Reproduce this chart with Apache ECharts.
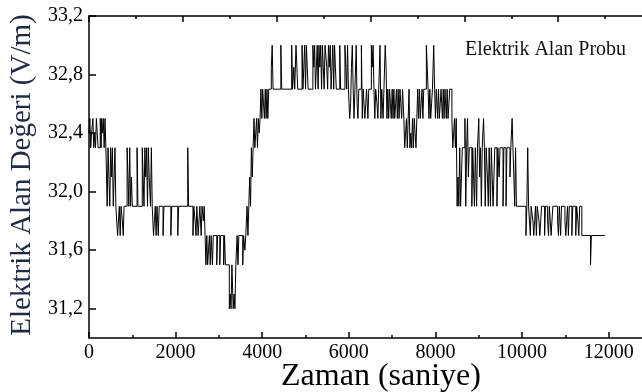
<!DOCTYPE html>
<html><head><meta charset="utf-8">
<script src="https://cdn.jsdelivr.net/npm/echarts@6/dist/echarts.min.js"></script>
<style>html,body{margin:0;padding:0;background:#fff;overflow:hidden;width:642px;height:392px}#c{width:660px;height:392px}</style>
</head><body><div id="c"></div>
<script>
// Tick labels
const xTickLabels = ['0','2000','4000','6000','8000','10000','12000'];
const yMajorTicks = [31.2,31.6,32.0,32.4,32.8,33.2];
const yMinorTicks = [31.4,31.8,32.2,32.6,33.0];
const seriesName = 'Elektrik Alan Probu';
const xTitle = 'Zaman (saniye)';
const yTitle = 'Elektrik Alan Değeri (V/m)';

// [time (s), field (V/m)], piecewise
const phaseStart = [[0,32.4],[20,32.5],[40,32.3],[60,32.4],[90,32.5],[110,32.3],[130,32.4],[150,32.3],[170,32.5],[190,32.4],[210,32.3],[260,32.5],[280,32.3],[290,32.5],[310,32.4],[330,32.5],[350,32.3],[370,32.5],[390,32.3],
 [420,31.9],[440,32.3],[460,32.1],[480,31.9],[500,32.3],[520,32.1],[540,32.3],[560,31.9],[580,32.1],[600,32.3],[620,31.9]];
const phaseLow1 = [[660,31.7],[680,31.8],[700,31.9],[720,31.7],[740,31.9],[770,31.8],[790,31.7],[810,31.9],
 [880,32.3],[900,32.1],[920,31.9],[940,32.3],[960,31.9],[980,32.1],[1000,31.9],
 [1110,32.3],[1130,31.9],
 [1230,32.3],[1250,32.1],[1270,31.9],[1290,32.3],[1310,32.1],[1330,32.3],[1350,31.9],[1370,32.3],[1390,32.1],[1420,31.9],[1440,32.3],[1460,31.9],
 [1490,31.7],[1510,31.8],[1530,31.9],[1550,31.7],[1570,31.9],[1600,31.7],[1620,31.9],
 [1710,31.7],[1730,31.9],[1890,31.7],[1910,31.9],[2050,31.7],[2070,31.9],[2280,32.3],[2300,31.9],
 [2400,31.7],[2420,31.9],[2450,31.8],[2470,31.7],[2490,31.9],[2520,31.7],[2540,31.8],[2560,31.9],[2590,31.7],[2610,31.9],[2640,31.8],[2660,31.9]];
const phaseDip = [[2680,31.7],[2700,31.5],[2720,31.7],[2740,31.5],[2760,31.6],[2780,31.7],[2800,31.5],[2820,31.7],[2850,31.5],[2870,31.7],
 [2950,31.5],[2970,31.7],[3020,31.5],[3040,31.7],[3110,31.5],[3130,31.7],[3150,31.5],
 [3180,31.5],[3240,31.2],[3260,31.3],[3280,31.2],[3300,31.5],[3330,31.2],[3350,31.3],[3370,31.2],[3390,31.5],
 [3420,31.7],[3440,31.5],[3460,31.7],[3550,31.5],[3570,31.7],[3600,31.6],[3620,31.7],[3650,31.9],[3670,31.7],[3690,31.9]];
const phaseRise = [[3710,32.1],[3730,31.9],[3750,32.3],[3770,32.1],[3790,32.3],[3810,32.5],[3830,32.3],[3850,32.4],[3870,32.5],[3890,32.3],[3910,32.5],[3930,32.4],[3950,32.5],
 [3970,32.7],[3990,32.5],[4010,32.7],[4030,32.6],[4050,32.5],[4070,32.7],[4090,32.5],[4110,32.7],[4130,32.5],[4150,32.7]];
const phaseHigh = [[4210,32.85],[4230,33.0],[4250,32.7],[4430,33.0],[4450,32.7],[4680,33.0],[4700,32.7],[4730,32.85],[4750,32.7],[4780,33.0],[4800,32.85],[4820,32.7],
 [4920,33.0],[4940,32.7],[4960,32.85],[4980,33.0],[5000,32.7],[5020,33.0],[5040,32.85],[5060,32.7],
 [5170,33.0],[5190,32.85],[5210,33.0],[5230,32.7],[5250,32.85],[5270,33.0],[5290,32.7],[5310,33.0],[5330,32.85],[5350,33.0],[5370,32.7],[5390,33.0],[5410,32.85],[5430,32.7],[5450,33.0],[5470,33.0],[5490,32.85],[5510,32.7],[5530,33.0],[5550,32.85],[5570,33.0],[5590,32.7],[5610,32.85],[5630,33.0],[5650,32.7],[5670,33.0],[5690,32.85],[5710,32.7],
 [5790,33.0],[5810,32.7],[5910,33.0],[5930,32.85],[5950,32.7],[5970,33.0],[5990,32.7]];
const phasePlateau = [[6020,32.5],[6040,32.6],[6060,32.85],[6080,33.0],[6100,32.7],[6120,32.5],[6140,32.7],[6170,33.0],[6190,32.6],[6210,32.5],[6230,32.7],
 [6290,33.0],[6310,32.5],[6330,32.7],[6370,32.5],[6390,32.6],[6410,32.7],[6440,32.5],[6460,32.7],
 [6520,33.0],[6540,32.85],[6560,33.0],[6580,32.7],[6600,32.5],[6620,32.7],[6650,32.6],[6670,32.5],[6690,32.7],[6720,33.0],[6740,32.5],[6760,32.7],
 [6790,32.5],[6810,32.7],[6840,33.0],[6860,32.85],[6880,32.5],
 [6900,32.7],[6920,32.5],[6940,32.7],[6960,32.6],[6980,32.5],[7000,32.7],[7020,32.5],[7040,32.7],[7060,32.5],[7080,32.6],[7100,32.7],[7120,32.5],[7140,32.7],[7160,32.5],[7180,32.7],[7200,32.6],[7220,32.5],[7240,32.7],
 [7270,32.5],[7290,32.3],[7310,32.4],[7330,32.5],[7350,32.3],[7370,32.5],[7390,32.7],[7410,32.3],[7430,32.4],[7450,32.3],[7470,32.5],[7490,32.3],[7510,32.5],[7530,32.4],[7550,32.3],[7570,32.5],[7590,32.7],
 [7610,32.5],[7630,32.7],[7650,32.5],[7670,32.6],[7690,32.7],[7710,32.5],[7730,32.7],[7790,33.0],[7810,32.85],[7830,32.7],
 [7850,32.5],[7870,32.7],[7890,32.5],[7910,32.6],[7930,32.7],[7960,33.0],[7980,32.7],
 [8000,32.5],[8020,32.7],[8050,32.5],[8070,32.7],[8090,32.5],[8110,32.6],[8130,32.7],[8160,32.5],[8180,32.7],[8200,32.5],[8220,32.7],[8250,32.5],[8270,32.7],[8290,32.5],[8310,32.6],[8330,32.7]];
const phaseFall = [[8380,32.5],[8400,32.3],[8420,32.4],[8440,32.5],[8460,32.3],[8480,32.5],
 [8500,31.9],[8520,32.1],[8540,31.9],[8560,32.3],[8580,31.9],[8600,32.1],[8620,32.3],
 [8680,32.5],[8700,31.9],[8720,32.3],[8740,32.5],[8760,32.1],[8780,32.3],
 [8840,31.9],[8860,32.3],[8880,32.1],[8900,31.9],[8920,32.3],[8950,31.9],[8970,32.3],[9000,32.5],[9020,32.1],[9040,32.3],[9060,31.9],[9080,32.3],
 [9110,32.5],[9130,32.3],[9150,31.9],[9170,32.3],[9200,32.1],[9220,31.9],[9240,32.3],[9270,31.9],[9290,32.3],
 [9330,31.9],[9350,32.1],[9370,32.3],[9420,31.9],[9440,32.3],[9470,32.1],[9490,32.3],
 [9560,31.9],[9580,32.3],[9630,31.9],[9650,32.3],[9720,32.1],[9740,32.3],[9770,32.5],[9790,32.3],
 [9830,31.9],[9850,32.3],[9870,31.9]];
const phaseEnd = [[10090,31.7],[10110,31.9],[10130,32.3],[10150,31.9],[10170,31.8],[10190,31.7],[10210,31.9],
 [10250,31.8],[10270,31.7],[10290,31.8],[10310,31.9],[10330,31.7],[10350,31.9],
 [10390,31.8],[10410,31.7],[10430,31.8],[10450,31.9],[10520,31.7],[10540,31.9],
 [10590,31.8],[10610,31.7],[10630,31.9],[10670,31.7],[10690,31.8],[10710,31.9],
 [10820,31.8],[10840,31.7],[10860,31.9],[10890,31.7],[10910,31.9],
 [10990,31.8],[11010,31.7],[11030,31.8],[11050,31.9],[11070,31.7],[11090,31.9],
 [11150,31.7],[11170,31.9],[11240,31.7],[11260,31.9],[11290,31.8],[11310,31.7],[11330,31.9],
 [11380,31.7],[11580,31.5],[11600,31.7],[11910,31.7]];

const data = [].concat(phaseStart, phaseLow1, phaseDip, phaseRise, phaseHigh, phasePlateau, phaseFall, phaseEnd);

const serif = '"Liberation Serif", "Times New Roman", serif';
const axisCol = '#000';
const PLOT_W = 563;
const chart = echarts.init(document.getElementById('c'), null, {renderer:'canvas'});
chart.setOption({
  animation: false,
  backgroundColor: '#fff',
  grid: {left: 89, right: 8, top: 16, bottom: 54, containLabel: false},
  xAxis: [
    {type:'value', position:'bottom', min:0, max:13000, interval:2000,
     axisLine:{show:true, onZero:false, lineStyle:{color:axisCol, width:1.5}},
     axisTick:{show:true, inside:true, length:6, lineStyle:{color:axisCol, width:1.5}},
     minorTick:{show:true, splitNumber:2, length:3, lineStyle:{color:axisCol, width:1.5}},
     axisLabel:{color:'#000', fontFamily:serif, fontSize:20, margin:5, showMaxLabel:false,
       formatter: (v) => { const i = v/2000; return Number.isInteger(i) && xTickLabels[i] !== undefined ? xTickLabels[i] : ''; }},
     splitLine:{show:false}},
    {type:'value', position:'top', min:0, max:12000, interval:2000,
     axisLine:{show:true, onZero:false, lineStyle:{color:axisCol, width:1.5}},
     axisTick:{show:true, inside:true, length:6, lineStyle:{color:axisCol, width:1.5}},
     minorTick:{show:true, splitNumber:2, length:3, lineStyle:{color:axisCol, width:1.5}},
     axisLabel:{show:false}, splitLine:{show:false}}
  ],
  yAxis: [
    {type:'value', position:'left', min:31.0, max:33.2,
     axisLine:{show:true, onZero:false, lineStyle:{color:axisCol, width:1.5}},
     axisTick:{show:true, inside:true, length:7, customValues: yMajorTicks, lineStyle:{color:axisCol, width:1.5}},
     axisLabel:{color:'#000', fontFamily:serif, fontSize:20, margin:6, customValues: yMajorTicks,
       formatter: (v) => v.toFixed(1).replace('.', ',')},
     splitLine:{show:false}},
    {type:'value', position:'right', offset:-PLOT_W, min:31.0, max:33.2,
     axisLine:{show:false},
     axisTick:{show:true, inside:false, length:4, customValues: yMinorTicks, lineStyle:{color:axisCol, width:1.5}},
     axisLabel:{show:false}, splitLine:{show:false}}
  ],
  series: [{
    name: seriesName, type:'line', step:'end', xAxisIndex:0, yAxisIndex:0,
    showSymbol:false, symbol:'none', data: data,
    lineStyle:{color:'#000', width:1}, clip:true
  }],
  graphic: [
    {type:'text', x:22, y:175, rotation:Math.PI/2,
     style:{text:yTitle, font:'29px ' + serif, fill:'#1f2b45', textAlign:'center', textVerticalAlign:'middle'}},
    {type:'text', x:381, y:377,
     style:{text:xTitle, font:'32px ' + serif, fill:'#000', textAlign:'center', textVerticalAlign:'middle'}},
    {type:'text', x:465, y:50,
     style:{text:seriesName, font:'20px ' + serif, fill:'#111', textAlign:'left', textVerticalAlign:'middle'}}
  ]
});
</script></body></html>
